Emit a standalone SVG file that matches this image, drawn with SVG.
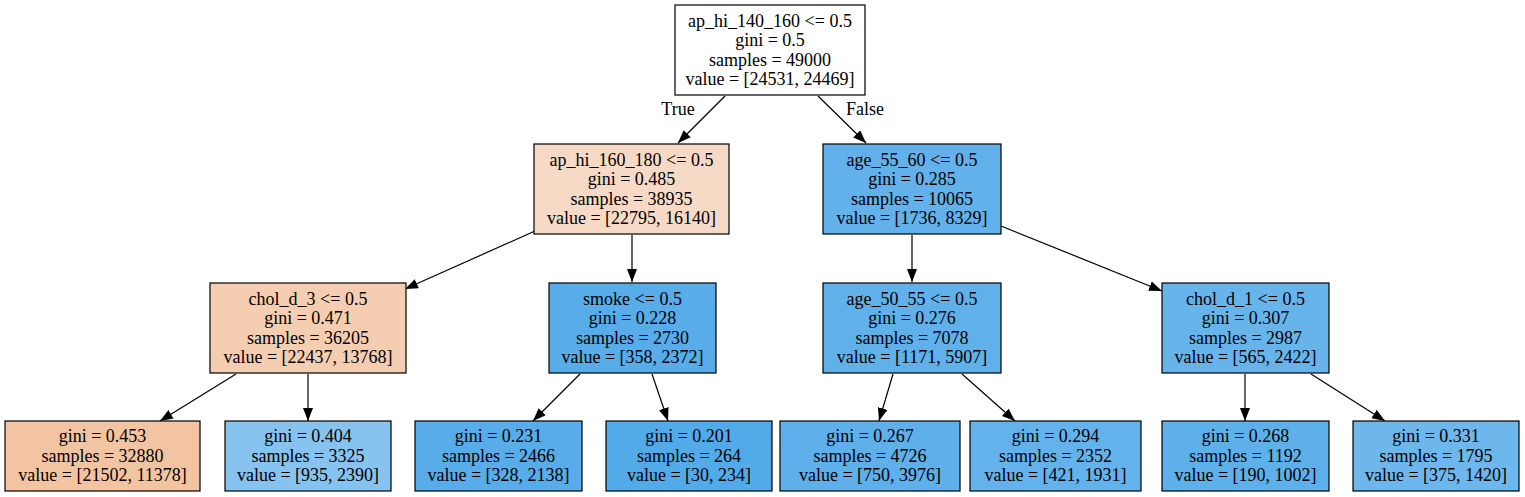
<svg xmlns="http://www.w3.org/2000/svg" width="1525" height="497" viewBox="0 0 1525 497">
<style>
text{font-family:"Liberation Serif","Times New Roman",serif;font-size:18px;fill:#000;text-anchor:middle}
.box{stroke:#000;stroke-width:1.2}
.edge{stroke:#000;stroke-width:1.2;fill:none;marker-end:url(#arr)}
</style>
<defs>
<marker id="arr" markerUnits="userSpaceOnUse" markerWidth="14" markerHeight="12" refX="13" refY="5" orient="auto">
<path d="M0,0 L13,5 L0,10 z" fill="#000"/>
</marker>
</defs>
<rect width="1525" height="497" fill="#fff"/>
<g id="connectors">
<line class="edge" x1="725" y1="96" x2="678" y2="143"/>
<line class="edge" x1="818" y1="96" x2="866" y2="143"/>
<line class="edge" x1="535" y1="231" x2="405" y2="289"/>
<line class="edge" x1="632" y1="235" x2="632" y2="282"/>
<line class="edge" x1="912" y1="235" x2="912" y2="282"/>
<line class="edge" x1="1001" y1="226" x2="1162" y2="291"/>
<line class="edge" x1="236" y1="374" x2="160" y2="421"/>
<line class="edge" x1="308" y1="374" x2="308" y2="421"/>
<line class="edge" x1="580" y1="374" x2="533" y2="421"/>
<line class="edge" x1="652" y1="374" x2="668" y2="421"/>
<line class="edge" x1="893" y1="374" x2="879" y2="421"/>
<line class="edge" x1="962" y1="374" x2="1015" y2="421"/>
<line class="edge" x1="1245" y1="374" x2="1245" y2="421"/>
<line class="edge" x1="1311" y1="374" x2="1385" y2="421"/>
<text x="678" y="115">True</text>
<text x="865" y="115">False</text>
</g>
<g id="n0">
<rect class="box" x="675" y="5" width="190" height="90" fill="#ffffff"/>
<text x="770" y="26.5">ap_hi_140_160 &lt;= 0.5</text>
<text x="770" y="46">gini = 0.5</text>
<text x="770" y="65.5">samples = 49000</text>
<text x="770" y="85">value = [24531, 24469]</text>
</g>
<g id="n1">
<rect class="box" x="534" y="144" width="195" height="90" fill="#f7dac5"/>
<text x="631.5" y="165.5">ap_hi_160_180 &lt;= 0.5</text>
<text x="631.5" y="185">gini = 0.485</text>
<text x="631.5" y="204.5">samples = 38935</text>
<text x="631.5" y="224">value = [22795, 16140]</text>
</g>
<g id="n8">
<rect class="box" x="823" y="144" width="178" height="90" fill="#62b1ea"/>
<text x="912" y="165.5">age_55_60 &lt;= 0.5</text>
<text x="912" y="185">gini = 0.285</text>
<text x="912" y="204.5">samples = 10065</text>
<text x="912" y="224">value = [1736, 8329]</text>
</g>
<g id="n2">
<rect class="box" x="210" y="283" width="196" height="90" fill="#f5ceb2"/>
<text x="308" y="304.5">chol_d_3 &lt;= 0.5</text>
<text x="308" y="324">gini = 0.471</text>
<text x="308" y="343.5">samples = 36205</text>
<text x="308" y="363">value = [22437, 13768]</text>
</g>
<g id="n5">
<rect class="box" x="549" y="283" width="167" height="90" fill="#57ace9"/>
<text x="632.5" y="304.5">smoke &lt;= 0.5</text>
<text x="632.5" y="324">gini = 0.228</text>
<text x="632.5" y="343.5">samples = 2730</text>
<text x="632.5" y="363">value = [358, 2372]</text>
</g>
<g id="n9">
<rect class="box" x="823" y="283" width="178" height="90" fill="#60b0ea"/>
<text x="912" y="304.5">age_50_55 &lt;= 0.5</text>
<text x="912" y="324">gini = 0.276</text>
<text x="912" y="343.5">samples = 7078</text>
<text x="912" y="363">value = [1171, 5907]</text>
</g>
<g id="n12">
<rect class="box" x="1162" y="283" width="167" height="90" fill="#67b4eb"/>
<text x="1245.5" y="304.5">chol_d_1 &lt;= 0.5</text>
<text x="1245.5" y="324">gini = 0.307</text>
<text x="1245.5" y="343.5">samples = 2987</text>
<text x="1245.5" y="363">value = [565, 2422]</text>
</g>
<g id="n3">
<rect class="box" x="5" y="421" width="195" height="70" fill="#f3c4a2"/>
<text x="102.5" y="442">gini = 0.453</text>
<text x="102.5" y="461.5">samples = 32880</text>
<text x="102.5" y="481">value = [21502, 11378]</text>
</g>
<g id="n4">
<rect class="box" x="225" y="421" width="166" height="70" fill="#86c3ef"/>
<text x="308" y="442">gini = 0.404</text>
<text x="308" y="461.5">samples = 3325</text>
<text x="308" y="481">value = [935, 2390]</text>
</g>
<g id="n6">
<rect class="box" x="415" y="421" width="167" height="70" fill="#57ace9"/>
<text x="498.5" y="442">gini = 0.231</text>
<text x="498.5" y="461.5">samples = 2466</text>
<text x="498.5" y="481">value = [328, 2138]</text>
</g>
<g id="n7">
<rect class="box" x="606" y="421" width="166" height="70" fill="#52aae8"/>
<text x="689" y="442">gini = 0.201</text>
<text x="689" y="461.5">samples = 264</text>
<text x="689" y="481">value = [30, 234]</text>
</g>
<g id="n10">
<rect class="box" x="780" y="421" width="180" height="70" fill="#5eafea"/>
<text x="870" y="442">gini = 0.267</text>
<text x="870" y="461.5">samples = 4726</text>
<text x="870" y="481">value = [750, 3976]</text>
</g>
<g id="n11">
<rect class="box" x="970" y="421" width="171" height="70" fill="#64b2eb"/>
<text x="1055.5" y="442">gini = 0.294</text>
<text x="1055.5" y="461.5">samples = 2352</text>
<text x="1055.5" y="481">value = [421, 1931]</text>
</g>
<g id="n13">
<rect class="box" x="1162" y="421" width="167" height="70" fill="#5eb0ea"/>
<text x="1245.5" y="442">gini = 0.268</text>
<text x="1245.5" y="461.5">samples = 1192</text>
<text x="1245.5" y="481">value = [190, 1002]</text>
</g>
<g id="n14">
<rect class="box" x="1353" y="421" width="166" height="70" fill="#6db7ec"/>
<text x="1436" y="442">gini = 0.331</text>
<text x="1436" y="461.5">samples = 1795</text>
<text x="1436" y="481">value = [375, 1420]</text>
</g>
</svg>
